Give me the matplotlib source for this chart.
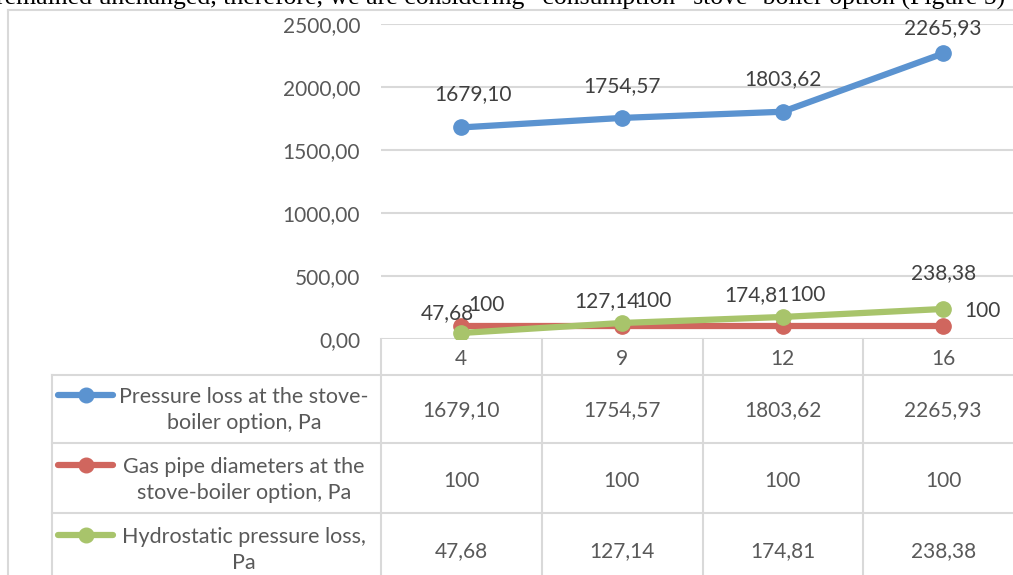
import matplotlib
matplotlib.use('Agg')
import matplotlib.pyplot as plt
import matplotlib.transforms as mtransforms
from matplotlib.lines import Line2D

plt.rcParams['font.family'] = ['Lato', 'DejaVu Sans']

categories = ['4', '9', '12', '16']
pressure_loss = [1679.10, 1754.57, 1803.62, 2265.93]
gas_pipe = [100, 100, 100, 100]
hydrostatic = [47.68, 127.14, 174.81, 238.38]

series_names = ['Pressure loss at the stove-\nboiler option, Pa',
                'Gas pipe diameters at the\nstove-boiler option, Pa',
                'Hydrostatic pressure loss,\nPa']
yticks = [0, 500, 1000, 1500, 2000, 2500]

c_blue = '#5b93d0'
c_red = '#d0665e'
c_green = '#a8c46b'
c_grid = '#d9d9d9'
c_text = '#595959'
fs = 15


def fmt2(v):
    return ('%.2f' % v).replace('.', ',')


def fmt0(v):
    return '%d' % v


W, H = 1013, 575
fig = plt.figure(figsize=(W / 100, H / 100), dpi=100)

# overlay in pixel coords for the data table and frame
tab = fig.add_axes([0, 0, 1, 1])
tab.set_xlim(0, W)
tab.set_ylim(H, 0)
tab.axis('off')

ax = fig.add_axes([381 / W, 1 - 339 / H, 642.5 / W, 315 / H])
ax.patch.set_alpha(0)
x = list(range(len(categories)))

ax.plot(x, pressure_loss, color=c_blue, lw=4.5, marker='o', ms=11, zorder=3)
ax.plot(x, gas_pipe, color=c_red, lw=4.5, marker='o', ms=11, zorder=3)
ax.plot(x, hydrostatic, color=c_green, lw=4.5, marker='o', ms=11, zorder=4)

ax.set_xlim(-0.5, len(categories) - 0.5)
ax.set_ylim(0, 2500)
ax.set_yticks(yticks)
ax.set_yticklabels([fmt2(v) for v in yticks])
ax.set_xticks(x)
ax.set_xticklabels(categories)
ax.tick_params(axis='y', length=0, pad=15, labelsize=fs, labelcolor=c_text)
ax.tick_params(axis='x', length=0, pad=7, labelsize=fs, labelcolor=c_text)
ax.grid(axis='y', color=c_grid, lw=1.5, zorder=0)
for s in ax.spines.values():
    s.set_visible(False)

# data labels (offsets in pixels)
blue_off = [(12, 33), (0, 32), (0, 33), (0, 25)]
green_off = [(-14, 20), (-15, 22), (-26, 22), (0, 36)]
red_off = [(25, 21), (32, 25), (25, 31), (39, 15)]
for i in x:
    ax.annotate(fmt2(pressure_loss[i]), (i, pressure_loss[i]), xytext=blue_off[i],
                textcoords='offset pixels', ha='center', va='center',
                fontsize=fs, color='#404040', annotation_clip=False, zorder=5)
    ax.annotate(fmt2(hydrostatic[i]), (i, hydrostatic[i]), xytext=green_off[i],
                textcoords='offset pixels', ha='center', va='center',
                fontsize=fs, color='#404040', annotation_clip=False, zorder=5)
    ax.annotate(fmt0(gas_pipe[i]), (i, gas_pipe[i]), xytext=red_off[i],
                textcoords='offset pixels', ha='center', va='center',
                fontsize=fs, color='#404040', annotation_clip=False, zorder=5)

# frame and table lines
lk = dict(color=c_grid, lw=1.5)
tab.plot([8, 8], [10, H], **lk)
tab.plot([8, W], [10, 10], **lk)
for yy in [375, 443, 513]:
    tab.plot([52, W], [yy, yy], **lk)
tab.plot([52, 52], [375, H], **lk)
for xx in [381, 542, 703, 863]:
    tab.plot([xx, xx], [339, H], **lk)

# legend keys and series names
row_key_y = [395, 465, 535]
row_mid_y = [410, 480, 550]
colors = [c_blue, c_red, c_green]
for k in range(3):
    tab.add_line(Line2D([58, 113], [row_key_y[k], row_key_y[k]], color=colors[k],
                        lw=4.5, solid_capstyle='round'))
    tab.plot([86], [row_key_y[k]], 'o', color=colors[k], ms=10.5)
    tab.text(244, row_mid_y[k], series_names[k], ha='center', va='center',
             fontsize=15.5, color=c_text, linespacing=1.4)

# table values
bt = mtransforms.blended_transform_factory(ax.transData, tab.transData)
rows = [[fmt2(v) for v in pressure_loss],
        [fmt0(v) for v in gas_pipe],
        [fmt2(v) for v in hydrostatic]]
row_val_y = [410, 481, 551]
for k in range(3):
    for i in x:
        tab.text(i, row_val_y[k], rows[k][i], transform=bt, ha='center',
                 va='center', fontsize=fs, color=c_text)

# cut-off line of body text above the chart
fig.text(-4 / W, 1 - 5 / H,
         'remained unchanged, therefore, we are considering \u201cconsumption\u201d stove- boiler option (Figure 5)',
         family='Liberation Serif', fontsize=18.5, color='black', ha='left', va='baseline')

fig.savefig('out.png', dpi=100)
